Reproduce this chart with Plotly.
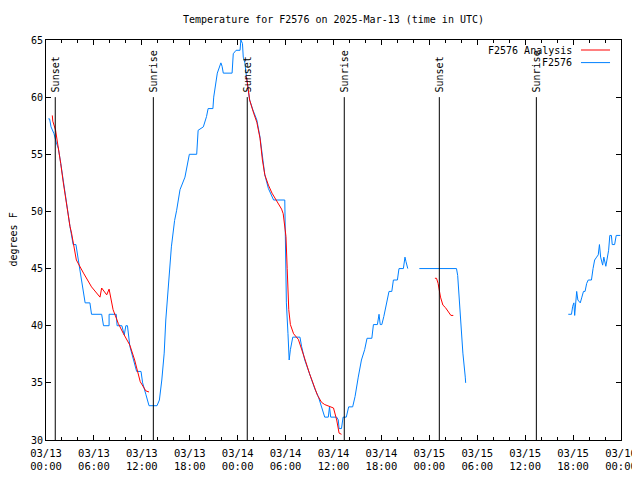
import pandas as pd
import plotly.graph_objects as go

# ---- data (hours since 2025-03-13 00:00 UTC) ----
start = "2025-03-13 00:00"

obs_hours_1 = [0.29, 0.45, 0.63, 1.0, 1.3, 1.55, 1.85, 2.2, 2.6, 3.0, 3.4, 3.75, 4.05, 4.47, 4.67,
               4.9, 5.5, 5.7, 6.97, 7.2, 7.9, 7.9, 8.8, 8.9, 9.5, 9.8, 10.0, 10.2, 10.5, 10.95,
               11.35, 11.9, 12.1, 12.5, 12.9, 13.9, 14.2, 14.5, 14.8, 15.0, 15.3, 15.5, 15.7, 16.1,
               16.36, 16.78, 17.4, 17.95, 18.87, 19.05, 19.7, 20.1, 20.3, 20.9, 21.0, 21.45, 21.9,
               22.05, 22.2, 23.3, 23.45, 23.8, 24.3, 24.4, 24.6, 24.7, 24.9, 25.1, 25.5, 25.9, 26.4,
               26.8, 27.1, 27.4, 27.85, 28.5, 29.9, 29.95, 30.05, 30.1, 30.3, 30.45, 30.6, 30.8,
               30.9, 31.8, 32.0, 32.4, 32.85, 33.3, 33.7, 34.1, 34.5, 34.9, 35.35, 35.5, 35.65,
               36.4, 36.6, 36.7, 37.0, 37.2, 37.6, 37.9, 38.4, 38.7, 39.1, 39.5, 39.9, 40.2, 40.8,
               41.0, 41.5, 41.7, 41.85, 42.05, 42.3, 42.7, 42.95, 43.3, 43.5, 44.0, 44.2, 44.75,
               44.95, 45.08, 45.3]
obs_temps_1 = [58.1, 58.1, 57.4, 56.8, 56.0, 55.5, 54.2, 52.5, 50.4, 48.7, 47.1, 47.1, 45.75, 43.85, 43.1,
               42.0, 42.0, 41.0, 41.0, 40.0, 40.0, 41.0, 41.0, 40.0, 40.0, 39.2, 40.0, 40.0, 38.2, 37.0,
               36.0, 36.0, 35.0, 34.0, 33.0, 33.0, 33.5, 35.25, 37.6, 40.5, 43.4, 45.5, 46.9, 49.2,
               50.1, 51.9, 53.0, 55.0, 55.0, 57.1, 57.4, 58.3, 59.0, 59.0, 60.0, 62.1, 63.0,
               62.7, 62.1, 62.1, 63.8, 64.1, 64.1, 65.0, 64.7, 63.5, 63.0, 61.8, 59.75, 58.9, 58.0,
               56.5, 54.8, 53.2, 52.0, 51.0, 51.0, 49.25, 45.5, 42.0, 39.3, 37.0, 37.9, 38.75,
               39.0, 39.0, 38.2, 37.0, 36.1, 35.25, 34.4, 33.8, 32.9, 32.0, 32.0, 32.9, 32.0,
               32.0, 31.75, 31.0, 31.0, 32.0, 32.0, 32.9, 32.9, 33.8, 35.5, 37.0, 37.9, 38.9, 38.9,
               40.1, 40.1, 41.0, 40.1, 40.1, 40.8, 42.25, 43.0, 43.0, 44.0, 44.0, 45.0, 45.0,
               46.0, 45.6, 45.0]

obs_hours_2 = [46.75, 51.4, 51.55, 51.75, 51.97, 52.2, 52.5, 52.55]
obs_temps_2 = [45.0, 45.0, 44.4, 42.25, 39.9, 37.6, 35.5, 35.0]

obs_hours_3 = [65.4, 65.8, 65.95, 66.1, 66.2, 66.45, 66.6, 66.9, 67.1, 67.3, 67.5, 67.7, 67.9, 68.3,
               68.5, 68.7, 68.95, 69.15, 69.3, 69.45, 69.7, 69.85, 70.1, 70.25, 70.45, 70.6, 70.8,
               70.9, 71.2, 71.4, 71.9]
obs_temps_3 = [41.0, 41.0, 41.7, 42.0, 40.9, 43.0, 42.25, 42.0, 42.5, 43.0, 43.0, 43.7, 44.0, 44.0,
               45.0, 45.75, 46.0, 46.2, 47.1, 46.0, 45.3, 46.0, 45.2, 45.75, 46.6, 47.9, 47.9,
               47.1, 47.1, 47.9, 47.9]

ana_hours_1 = [0.79, 0.85, 1.2, 1.54, 1.84, 2.17, 2.59, 3.0, 3.2, 3.6, 3.8, 4.7, 5.7, 6.76, 6.97,
               7.6, 7.9, 8.4, 9.05, 9.7, 10.5, 11.1, 11.8, 12.5, 12.9]
ana_temps_1 = [58.4, 57.9, 57.1, 55.7, 54.2, 52.5, 50.4, 48.7, 48.1, 46.3, 45.75, 44.6, 43.4, 42.5, 43.3,
               42.7, 43.2, 41.4, 40.2, 39.3, 38.3, 37.0, 35.1, 34.3, 34.2]

ana_hours_2 = [25.1, 25.5, 26.0, 26.4, 26.8, 27.1, 27.4, 27.85, 28.3, 28.9, 29.5, 29.7, 30.05, 30.2,
               30.4, 30.6, 31.0, 31.6, 32.0, 32.5, 33.0, 33.5, 34.0, 34.5, 34.9, 36.0, 36.4, 36.7, 37.0]
ana_temps_2 = [61.8, 59.75, 58.6, 57.8, 56.4, 54.5, 53.2, 52.3, 51.6, 50.9, 50.2, 49.8, 47.8, 45.0,
               41.4, 40.1, 39.3, 38.8, 38.0, 36.9, 35.8, 34.8, 33.9, 33.3, 33.1, 32.8, 31.75, 30.6, 30.5]

ana_hours_3 = [48.7, 48.9, 49.1, 49.25, 49.4, 49.7, 50.0, 50.4, 50.7, 51.0]
ana_temps_3 = [44.15, 44.15, 43.7, 43.1, 42.5, 41.8, 41.6, 41.2, 40.9, 40.9]

event_hours = [1.16, 13.44, 25.2, 37.35, 49.25, 61.4]
event_labels = ["Sunset", "Sunrise", "Sunset", "Sunrise", "Sunset", "Sunrise"]

tick_hours = [0, 6, 12, 18, 24, 30, 36, 42, 48, 54, 60, 66, 72]
tick_labels = ["03/13<br>00:00", "03/13<br>06:00", "03/13<br>12:00", "03/13<br>18:00",
               "03/14<br>00:00", "03/14<br>06:00", "03/14<br>12:00", "03/14<br>18:00",
               "03/15<br>00:00", "03/15<br>06:00", "03/15<br>12:00", "03/15<br>18:00",
               "03/16<br>00:00"]
y_ticks = [30, 35, 40, 45, 50, 55, 60, 65]

# ---- helpers ----
base = pd.Timestamp(start)


def to_time(h):
    return base + pd.Timedelta(hours=h)


def join(segments):
    xs, ys = [], []
    for i, (hs, vs) in enumerate(segments):
        if i:
            xs.append(None)
            ys.append(None)
        xs += [to_time(h) for h in hs]
        ys += list(vs)
    return xs, ys


FONT = "DejaVu Sans Mono"
FS = 10
PAGE_OFF = 8  # browser body margin
W, H = 640 - PAGE_OFF, 480 - PAGE_OFF
ox, oy = join([(obs_hours_1, obs_temps_1), (obs_hours_2, obs_temps_2), (obs_hours_3, obs_temps_3)])
ax, ay = join([(ana_hours_1, ana_temps_1), (ana_hours_2, ana_temps_2), (ana_hours_3, ana_temps_3)])

fig = go.Figure()
fig.add_trace(go.Scatter(x=ox, y=oy, mode="lines", name="F2576",
                         line=dict(color="#0080ff", width=1)))
fig.add_trace(go.Scatter(x=ax, y=ay, mode="lines", name="F2576 Analysis",
                         line=dict(color="#ff0000", width=1)))

for h, lab in zip(event_hours, event_labels):
    t = to_time(h)
    fig.add_shape(type="line", xref="x", yref="y", x0=t, x1=t, y0=30, y1=60,
                  line=dict(color="black", width=1))
    fig.add_annotation(x=t, y=60, xref="x", yref="y", text=lab, textangle=-90,
                       showarrow=False, yanchor="bottom", xanchor="center", yshift=3,
                       font=dict(family=FONT, size=FS, color="black"))

# custom legend (text left of sample, as in gnuplot)
legend_rows = [("F2576 Analysis", "#ff0000", 0.975), ("F2576", "#0080ff", 0.9435)]
for text, col, yy in legend_rows:
    fig.add_annotation(x=0.919, y=yy, xref="paper", yref="paper", text=text,
                       showarrow=False, xanchor="right", yanchor="middle",
                       font=dict(family=FONT, size=FS, color="black"))
    fig.add_shape(type="line", xref="paper", yref="paper", x0=0.9304, x1=0.9809,
                  y0=yy, y1=yy, line=dict(color=col, width=1))

fig.add_annotation(x=(12.5 - 46) / 575, y=0.5, xref="paper", yref="paper", text="degrees F",
                   textangle=-90, showarrow=False, xanchor="center", yanchor="middle",
                   font=dict(family=FONT, size=FS, color="black"))

fig.update_layout(
    width=W, height=H,
    margin=dict(l=46 - PAGE_OFF, r=19, t=40 - PAGE_OFF, b=40),
    paper_bgcolor="white", plot_bgcolor="white",
    showlegend=False,
    font=dict(family=FONT, size=FS, color="black"),
    title=dict(text="Temperature for F2576 on 2025-Mar-13 (time in UTC)",
               x=((46 + 621) / 2 - PAGE_OFF) / W, xanchor="center",
               y=1 - (19 - PAGE_OFF) / H, yanchor="middle",
               font=dict(family=FONT, size=FS, color="black")),
    xaxis=dict(range=[to_time(0), to_time(72)], tickvals=[to_time(h) for h in tick_hours],
               ticktext=tick_labels, ticks="inside", ticklen=5, tickcolor="black",
               showline=True, linecolor="black", linewidth=1, mirror="ticks",
               showgrid=False, zeroline=False, automargin=False, ticklabelstandoff=3,
               minor=dict(dtick=2 * 3600 * 1000, tick0=to_time(0), ticks="inside",
                          ticklen=3, tickcolor="black", showgrid=False),
               tickfont=dict(family=FONT, size=FS + 0.5)),
    yaxis=dict(range=[30, 65], tickvals=y_ticks, ticks="inside", ticklen=5, tickcolor="black",
               showline=True, linecolor="black", linewidth=1, mirror="ticks",
               showgrid=False, zeroline=False, automargin=False,
               tickfont=dict(family=FONT, size=FS)),
)

fig.write_html("out.html")
